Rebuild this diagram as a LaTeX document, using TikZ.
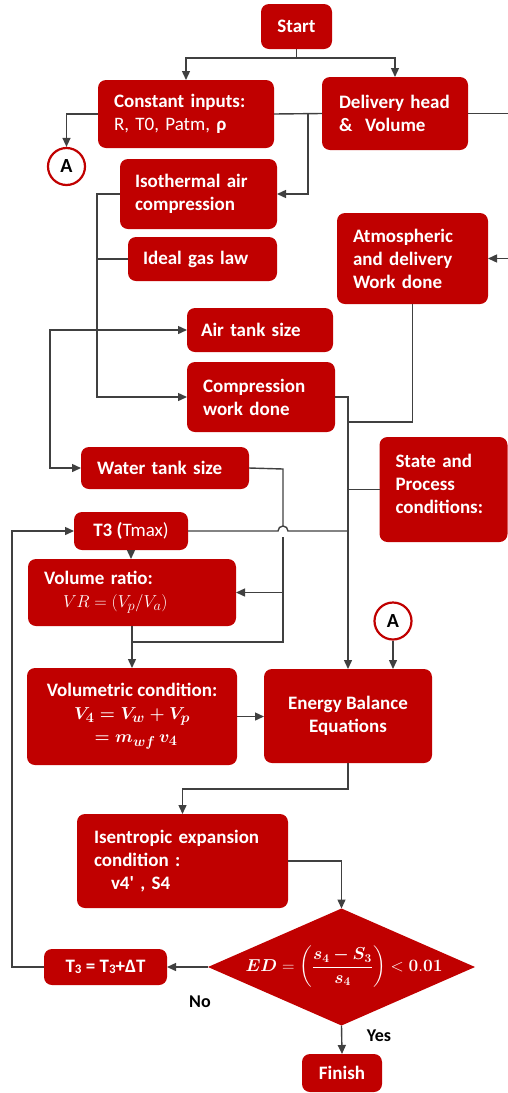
\documentclass[tikz,border=0pt]{standalone}
\usepackage{amsmath,bm}
\usepackage[no-math]{fontspec}
\setmainfont{Carlito}
\usetikzlibrary{arrows.meta,shapes.geometric}
\definecolor{boxred}{RGB}{192,0,0}
\definecolor{lineg}{RGB}{64,64,64}
\newcommand\tsub[1]{\raisebox{-1.5pt}{\fontsize{13}{13}\selectfont#1}}
\newcommand\edformula{{$\displaystyle \bm{ED}=\left(\frac{\bm{s_4-S_3}}{\bm{s_4}}\right)<\mathbf{0.01}$}}
\newcommand\vcformula{{\boldmath$V_4=V_w+V_p$}}
\newcommand\vcformulab{{\boldmath$=m_{wf}\,v_4$}}
\begin{document}
\begin{tikzpicture}[x=1pt,y=-1pt,
  rbox/.style={rectangle, rounded corners=8pt, fill=boxred, text=white,
    font=\bfseries\fontsize{19}{23}\selectfont, inner ysep=0pt, outer sep=0pt},
  cbox/.style 2 args={rbox, minimum width=#1, minimum height=#2, inner xsep=0pt, align=center},
  lbox/.style n args={3}{rbox, text width=#1, minimum height=#2, inner xsep=#3, align=left},
  dia/.style={diamond, fill=boxred, minimum width=267pt, minimum height=117pt, inner sep=0pt, outer sep=0pt},
  edtxt/.style={text=white, font=\fontsize{17.5}{21}\selectfont},
  circ/.style={circle, draw=boxred, line width=2.2pt, fill=white, minimum size=37pt, inner sep=0pt,
    font=\bfseries\fontsize{20}{20}\selectfont},
  lab/.style={font=\bfseries\fontsize{18}{18}\selectfont, text=black},
  conn/.style={draw=lineg, line width=1.4pt},
  arr/.style={conn, -{Triangle[length=9pt,width=8pt]}},
  darr/.style={conn, {Triangle[length=9pt,width=8pt]}-{Triangle[length=9pt,width=8pt]}}
]
\useasboundingbox (0,0) rectangle (508,1093);

\node[cbox={71pt}{45pt}] (start) at (296.5,26.5) {Start};
\node[lbox={144pt}{68pt}{16pt}] (ci) at (186,114) {Constant inputs:\\\mdseries R, T0, Patm, \textbf{ρ}};
\node[lbox={112pt}{73pt}{17pt}] (dh) at (395,113.5) {Delivery head\\\&\ \ Volume};
\node[lbox={127pt}{70pt}{15pt}] (iso) at (198.5,194) {Isothermal air\\compression};
\node[lbox={119pt}{44pt}{15pt}] (igl) at (202.5,259) {Ideal gas law};
\node[lbox={119pt}{91pt}{16pt}] (atm) at (412.5,258.5) {Atmospheric\\and delivery\\Work done};
\node[lbox={118pt}{44pt}{14pt}] (air) at (260,330) {Air tank size};
\node[lbox={116pt}{70pt}{16pt}] (cwd) at (261,397) {Compression\\work done};
\node[lbox={136pt}{42pt}{16pt}] (wts) at (165,468) {Water tank size};
\node[lbox={96pt}{105pt}{16pt}] (spc) at (443.5,489.5) {State and\\Process\\conditions:\\[-18pt]\strut};
\node[cbox={114pt}{38pt}] (t3) at (131,531) {T3 ({\mdseries Tmax)}};
\node[lbox={176pt}{67pt}{16pt}] (vr) at (132,592.5) {Volume ratio:\\\hspace*{19pt}$VR=(V_p/V_a)$};
\node[cbox={210pt}{97pt}] (vc) at (132,716.5) {Volumetric condition:\\\vcformula\\\hspace*{8pt}\vcformulab};
\node[cbox={168pt}{94pt}] (en) at (348,716) {Energy Balance\\Equations};
\node[lbox={177pt}{94pt}{17pt}] (ise) at (182.5,861) {Isentropic expansion\\condition :\\\hspace*{17pt}v4\textquotesingle\ , S4};
\node[dia] (dia) at (341.5,967) {};
\node[edtxt] (edt) at (344,967) {\edformula};
\node[cbox={123pt}{36pt}] (tt) at (105.5,967) {T\tsub{3} = T\tsub{3}+ΔT};
\node[cbox={80pt}{38pt}] (fin) at (342,1073) {Finish};
\node[circ] (A1) at (66.5,166.5) {A};
\node[circ] (A2) at (393,621) {A};
\node[lab] (no) at (200,1002) {No};
\node[lab] (yes) at (379,1036) {Yes};

\coordinate (sp) at (296.5,58);
\coordinate (j1) at (308,114);
\coordinate (j2) at (348,422);
\coordinate (jw) at (283,469);
\coordinate (j3) at (132,642);

\draw[arr] (start.south) -- (sp) -| (ci.north);
\draw[arr] (sp) -| (dh.north);
\draw[arr] (ci.west) -| (A1.north);
\draw[conn] (ci.east) -- (dh.west);
\draw[arr] (j1) |- (iso.east);
\draw[arr] (dh.east) -- ++(44,0) |- (atm.east);
\draw[arr] (iso.west) -- ++(-23,0) |- (cwd.west);
\draw[conn] (igl.west) -- ++(-31,0);
\draw[darr] (air.west) -- ++(-137,0) |- (wts.west);
\draw[arr] (cwd.east) -| (en.north);
\draw[conn] (atm.south) |- (j2);
\draw[conn] (spc.west) -- (spc.west -| en.north);
\draw[conn] (t3.east) -- (278,531) arc[start angle=180,end angle=0,radius=5pt] -- (t3.east -| en.north);
\draw[conn] (wts.east) -- (jw) -- (283,526);
\draw[conn] (283,537) -- (283,642) -- (j3);
\draw[arr] (jw |- vr.east) -- (vr.east);
\draw[arr] (vr.south) -- (vc.north);
\draw[arr] (t3.south) -- (t3.south |- vr.north);
\draw[arr] (vc.east) -- (vc.east -| en.west);
\draw[arr] (A2.south) -- (A2.south |- en.north);
\draw[arr] (en.south) -- ++(0,26) -| (ise.north);
\draw[arr] (ise.east) -| (dia.north);
\draw[arr] (dia.west) -- (tt.east);
\draw[arr] (tt.west) -- ++(-32,0) |- (t3.west);
\draw[arr] (dia.south) -- (fin.north);
\end{tikzpicture}
\end{document}
